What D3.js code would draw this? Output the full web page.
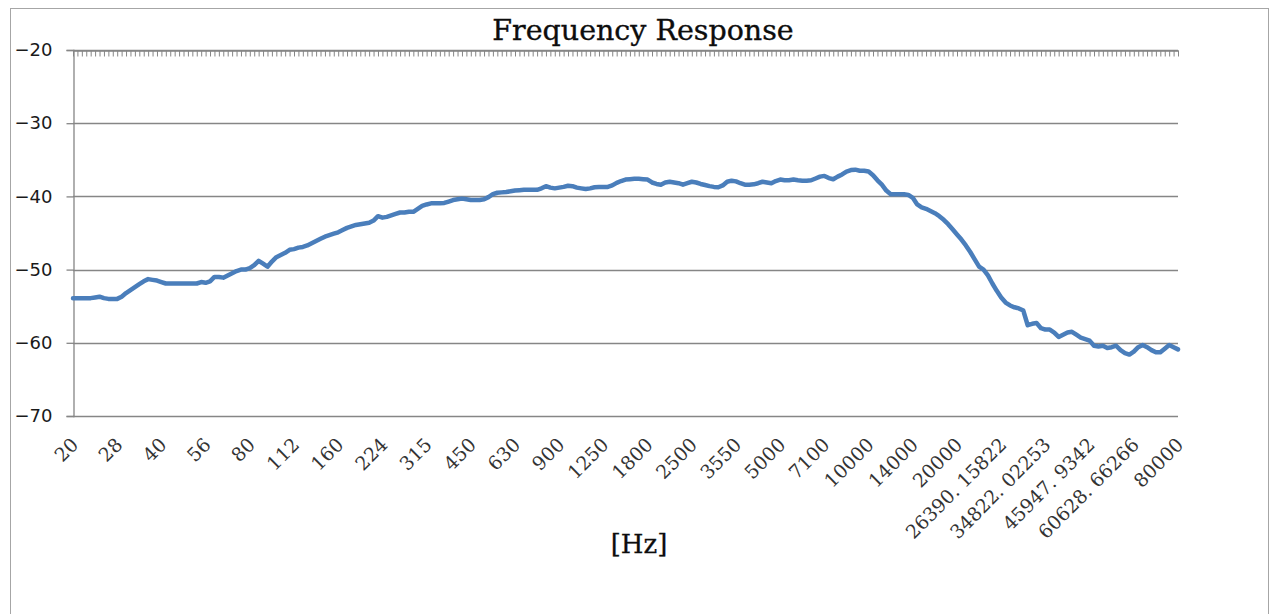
<!DOCTYPE html>
<html><head><meta charset="utf-8">
<script src="https://cdn.jsdelivr.net/npm/d3@7/dist/d3.min.js"></script>
<style>
html,body{margin:0;padding:0;background:#fff;}
svg{display:block;}
</style></head>
<body>
<svg id="chart" width="1271" height="614"></svg>
<script>
const titleText = "Frequency Response";
const xAxisTitle = "[Hz]";
const labelEvery = 10;
const tickLabels = ["20","28","40","56","80","112","160","224","315","450","630","900","1250","1800","2500","3550","5000","7100","10000","14000","20000","26390. 15822","34822. 02253","45947. 9342","60628. 66266","80000"];
const yTicks = [-20,-30,-40,-50,-60,-70];
const response = [
-53.9,-53.9,-53.9,-53.9,-53.9,-53.8,-53.7,-53.9,-54.0,-54.0,
-54.0,-53.7,-53.2,-52.8,-52.4,-52.0,-51.6,-51.3,-51.4,-51.5,
-51.7,-51.9,-51.9,-51.9,-51.9,-51.9,-51.9,-51.9,-51.9,-51.7,
-51.8,-51.6,-51.0,-51.0,-51.1,-50.8,-50.5,-50.2,-50.0,-50.0,
-49.8,-49.4,-48.8,-49.2,-49.6,-48.9,-48.3,-48.0,-47.7,-47.3,
-47.2,-47.0,-46.9,-46.7,-46.4,-46.1,-45.8,-45.5,-45.3,-45.1,
-44.9,-44.6,-44.3,-44.1,-43.9,-43.8,-43.7,-43.6,-43.3,-42.7,
-42.9,-42.8,-42.6,-42.4,-42.2,-42.2,-42.1,-42.1,-41.7,-41.3,
-41.1,-40.95,-40.95,-40.95,-40.9,-40.7,-40.5,-40.4,-40.3,-40.4,
-40.5,-40.5,-40.5,-40.4,-40.1,-39.7,-39.5,-39.45,-39.4,-39.3,
-39.2,-39.15,-39.1,-39.1,-39.1,-39.1,-38.9,-38.6,-38.8,-38.9,
-38.8,-38.7,-38.55,-38.6,-38.8,-38.9,-39.0,-38.9,-38.75,-38.7,
-38.7,-38.7,-38.5,-38.15,-37.9,-37.7,-37.65,-37.6,-37.6,-37.65,
-37.7,-38.1,-38.3,-38.4,-38.1,-38.0,-38.1,-38.2,-38.4,-38.2,
-38.0,-38.1,-38.3,-38.45,-38.6,-38.7,-38.75,-38.5,-38.0,-37.85,
-37.95,-38.2,-38.4,-38.4,-38.35,-38.2,-38.0,-38.1,-38.2,-37.9,
-37.7,-37.8,-37.8,-37.7,-37.8,-37.85,-37.85,-37.8,-37.55,-37.3,
-37.2,-37.5,-37.65,-37.3,-37.0,-36.6,-36.4,-36.35,-36.5,-36.5,
-36.6,-37.1,-37.8,-38.4,-39.2,-39.7,-39.7,-39.7,-39.7,-39.8,
-40.2,-41.1,-41.5,-41.7,-42.0,-42.3,-42.7,-43.2,-43.8,-44.5,
-45.2,-45.9,-46.7,-47.6,-48.6,-49.6,-50.0,-50.8,-51.9,-52.9,
-53.8,-54.5,-54.9,-55.15,-55.3,-55.6,-57.6,-57.4,-57.3,-58.0,
-58.2,-58.2,-58.6,-59.2,-58.9,-58.6,-58.5,-58.9,-59.3,-59.5,
-59.7,-60.4,-60.5,-60.4,-60.7,-60.6,-60.4,-61.0,-61.4,-61.6,
-61.2,-60.6,-60.3,-60.6,-61.0,-61.3,-61.3,-60.8,-60.3,-60.6,
-60.9
];

(function () {
const svg = d3.select("#chart");
const mLeft = 73, mRight = 1178, mTop = 50, mBottom = 416;
const idx = d3.range(response.length);
const x = d3.scaleLinear().domain([0, response.length - 1]).range([mLeft, mRight]);
const y = d3.scaleLinear().domain([-70, -20]).range([mBottom, mTop]);
const axisColor = "#868686";

// chart area border
svg.append("rect").attr("x", 10.5).attr("y", 8.5).attr("width", 1258).attr("height", 700)
  .attr("fill", "none").attr("stroke", "#a6a6a6").attr("stroke-width", 1);

// title
svg.append("text").attr("x", 643).attr("y", 40).attr("text-anchor", "middle")
  .attr("font-family", "DejaVu Serif").attr("font-size", 28.5).attr("fill", "#0d0d0d")
  .attr("stroke", "#0d0d0d").attr("stroke-width", 0.35)
  .text(titleText);

// gridlines
svg.append("g").selectAll("line").data(yTicks).join("line")
  .attr("x1", mLeft).attr("x2", mRight)
  .attr("y1", d => Math.round(y(d)) + 0.5).attr("y2", d => Math.round(y(d)) + 0.5)
  .attr("stroke", axisColor).attr("stroke-width", 1.3);

// y axis
const yAxis = svg.append("g").attr("transform", `translate(${mLeft + 0.5},0)`)
  .call(d3.axisLeft(y).tickValues(yTicks).tickSize(7).tickPadding(14)
    .tickFormat(d => String(d).replace("-", "\u2212")));
yAxis.select(".domain").attr("stroke", axisColor).attr("stroke-width", 1.3);
yAxis.selectAll(".tick line").attr("stroke", axisColor).attr("stroke-width", 1.3);
yAxis.selectAll("text").attr("font-family", "DejaVu Sans").attr("font-size", 18).attr("fill", "#1a1a1a");

// top category axis with ticks pointing down
const xTop = svg.append("g").attr("transform", `translate(0,${mTop + 0.5})`)
  .call(d3.axisBottom(x).tickValues(idx).tickSize(6).tickSizeOuter(0).tickFormat(""));
xTop.select(".domain").attr("stroke", axisColor).attr("stroke-width", 1.3);
xTop.selectAll(".tick line").attr("stroke", axisColor).attr("stroke-width", 1);

// bottom category labels
const labelIdx = tickLabels.map((_, i) => i * labelEvery);
const xBot = svg.append("g").attr("transform", `translate(0,${mBottom})`)
  .call(d3.axisBottom(x).tickValues(labelIdx).tickSize(0).tickFormat((d, i) => tickLabels[i]));
xBot.select(".domain").remove();
xBot.selectAll("text")
  .attr("font-family", "DejaVu Serif").attr("font-size", 19).attr("fill", "#333")
  .attr("text-anchor", "end").attr("dy", null).attr("y", 0)
  .attr("transform", "translate(6,30) rotate(-45)");

// line
svg.append("path").datum(response)
  .attr("fill", "none").attr("stroke", "#4a7ebb").attr("stroke-width", 4.5)
  .attr("stroke-linejoin", "round").attr("stroke-linecap", "round")
  .attr("d", d3.line().x((d, i) => x(i)).y(d => y(d)));

// x-axis title
svg.append("text").attr("x", 639).attr("y", 553).attr("text-anchor", "middle")
  .attr("font-family", "DejaVu Serif").attr("font-size", 26).attr("fill", "#0d0d0d")
  .attr("stroke", "#0d0d0d").attr("stroke-width", 0.3)
  .text(xAxisTitle);
})();
</script>
</body></html>
